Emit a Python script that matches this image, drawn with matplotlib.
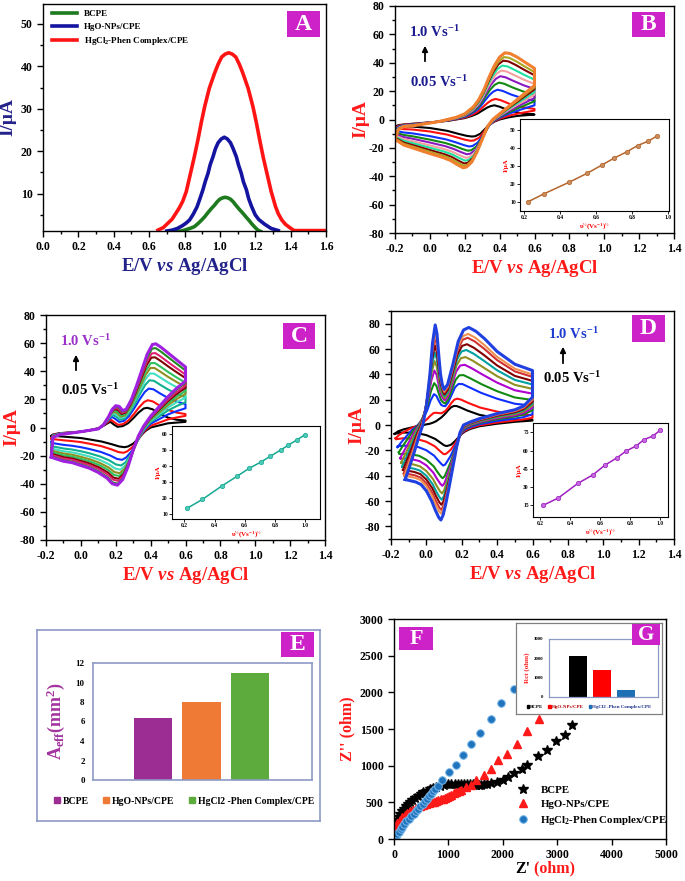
import numpy as np
import matplotlib
matplotlib.use('Agg')
import matplotlib.pyplot as plt
from matplotlib.ticker import MultipleLocator
from matplotlib.patches import Rectangle, Patch

plt.rcParams['font.family'] = ['Liberation Serif', 'DejaVu Serif']
plt.rcParams['font.weight'] = 'bold'
plt.rcParams['axes.labelweight'] = 'bold'
plt.rcParams['mathtext.fontset'] = 'custom'
plt.rcParams['mathtext.rm'] = 'Liberation Serif:bold'
plt.rcParams['mathtext.it'] = 'Liberation Serif:italic:bold'
plt.rcParams['mathtext.bf'] = 'Liberation Serif:bold'
plt.rcParams['axes.unicode_minus'] = False
plt.rcParams['axes.linewidth'] = 1.0

# ---------------- data ----------------
# A: DPV curves
dpv_labels = ['BCPE', 'HgO-NPs/CPE', 'HgCl$_2$-Phen Complex/CPE']
dpv_colors = ['#1e7a1e', '#1414a0', '#ff1414']
bcpe_E = [0.75, 0.78, 0.80, 0.83, 0.855, 0.875, 0.895, 0.915, 0.93, 0.95, 0.97, 0.985, 1.0, 1.015, 1.03,
          1.045, 1.06, 1.075, 1.09, 1.11, 1.13, 1.15, 1.165, 1.18, 1.2, 1.215, 1.23]
bcpe_I = [1.1, 1.2, 1.4, 1.8, 2.2, 2.9, 3.7, 4.6, 5.4, 6.4, 7.3, 8.1, 8.7, 9.0, 9.15,
          9.0, 8.7, 8.1, 7.3, 6.3, 5.4, 4.4, 3.7, 2.9, 2.0, 1.4, 1.1]
hgo_E = [0.70, 0.73, 0.76, 0.79, 0.81, 0.829, 0.85, 0.871, 0.887, 0.904, 0.917, 0.933, 0.945, 0.961, 0.975, 0.99,
         1.008, 1.025, 1.042, 1.06, 1.075, 1.093, 1.105, 1.121, 1.133, 1.15, 1.163, 1.18, 1.2, 1.22, 1.253, 1.29, 1.33]
hgo_I = [1.2, 1.4, 1.8, 2.5, 3.1, 3.8, 5.2, 6.9, 8.8, 10.9, 12.8, 14.8, 16.8, 18.7, 20.6, 22,
         22.9, 23.3, 22.9, 22, 20.6, 18.7, 16.8, 14.8, 12.8, 10.9, 8.8, 6.9, 5.0, 3.9, 2.8, 1.8, 1.3]
hgcl_E = [0.65, 0.68, 0.70, 0.73, 0.75, 0.77, 0.79, 0.81, 0.834, 0.855, 0.876, 0.895, 0.914, 0.94, 0.97, 0.99,
          1.01, 1.03, 1.05, 1.07, 1.09, 1.11, 1.13, 1.16, 1.187, 1.206, 1.225, 1.245, 1.266, 1.29, 1.315, 1.33,
          1.35, 1.37, 1.395, 1.42, 1.5, 1.6]
hgcl_I = [1.4, 2.0, 2.8, 4.0, 5.3, 6.6, 8.2, 10.5, 14.8, 18.6, 22.7, 26.8, 30.5, 34.8, 38.4, 40.5,
          42.2, 42.9, 43.2, 42.9, 42.2, 40.5, 38.4, 34.8, 30.5, 26.8, 22.7, 18.6, 14.8, 10.5, 6.9, 5.3,
          3.8, 2.8, 2.0, 1.3, 1.3, 1.3]

b_fwd_E_slow = [-0.2, -0.18, -0.15, -0.1, -0.05, 0.0, 0.05, 0.1, 0.15, 0.2, 0.24, 0.27, 0.29, 0.31, 0.33, 0.35, 0.37, 0.4, 0.45, 0.52, 0.6]
b_fwd_I_slow = [-5, -4, -3.5, -3, -2.5, -2, -1.5, -1, 0, 1, 2.5, 4, 5.5, 7, 8.5, 9.5, 10, 9, 6.5, 4.5, 3.5]
b_fwd_E_fast = [-0.2, -0.18, -0.15, -0.1, -0.05, 0.0, 0.05, 0.1, 0.15, 0.2, 0.25, 0.28, 0.31, 0.34, 0.37, 0.4, 0.43, 0.46, 0.5, 0.55, 0.6]
b_fwd_I_fast = [-14, -7, -5, -4.5, -3.5, -2.5, -1.5, 0, 1.5, 4, 9, 14, 21, 30, 38, 44, 47, 46.5, 44, 40, 36]
b_rev_E_slow = [0.6, 0.55, 0.5, 0.45, 0.4, 0.37, 0.35, 0.33, 0.31, 0.29, 0.26, 0.24, 0.21, 0.16, 0.1, 0.05, 0.0, -0.05, -0.1, -0.15, -0.2]
b_rev_I_slow = [3.5, 3, 2.5, 1.5, 0, -1.5, -3, -5, -7.5, -10, -11.8, -12, -11.5, -10, -8, -7, -6, -5.5, -5, -5, -5]
b_rev_E_fast = [0.6, 0.55, 0.5, 0.45, 0.4, 0.36, 0.33, 0.3, 0.27, 0.24, 0.21, 0.19, 0.16, 0.12, 0.08, 0.04, 0.0, -0.05, -0.1, -0.15, -0.2]
b_rev_I_fast = [24, 19, 14, 9, 4, 0, -5, -14, -23, -30, -33.5, -34, -32, -29, -27, -25.5, -24, -22, -20, -18, -14]
b_ipa = [10, 14.5, 21, 26, 30.5, 34.5, 38, 41.5, 44, 47]
b_ipc = [-12, -15, -19, -22, -24.5, -27, -29, -31, -32.5, -34]
b_colors = ['black', '#ff1010', '#1030ff', '#128a12', '#8a1ac0', '#f4a0a0', '#20e0a0', '#800000', '#a8a820', '#f08030']
b_sqrt_v = [0.22, 0.31, 0.45, 0.55, 0.63, 0.70, 0.77, 0.83, 0.89, 0.94]

# C: CV of HgO-NPs/CPE
c_fwd_E_slow = [-0.17, -0.16, -0.12, -0.06, 0.0, 0.05, 0.1, 0.12, 0.14, 0.16, 0.17, 0.19, 0.21, 0.24, 0.27, 0.3, 0.33, 0.36, 0.38, 0.41, 0.45, 0.5, 0.55, 0.6]
c_fwd_I_slow = [-6, -5, -4, -3.5, -3, -2, -0.5, 0.5, 2, 3.5, 4, 2, 0.5, 1, 3, 6.5, 10.5, 13.5, 14, 13, 10, 7, 5.5, 5]
c_fwd_E_fast = [-0.17, -0.16, -0.12, -0.06, 0.0, 0.05, 0.1, 0.13, 0.16, 0.18, 0.2, 0.22, 0.24, 0.26, 0.29, 0.32, 0.35, 0.38, 0.41, 0.43, 0.46, 0.5, 0.55, 0.6]
c_fwd_I_fast = [-21, -7, -5, -4, -3, -2, -1, 2, 8, 13, 15.5, 15, 12, 13, 20, 30, 41, 52, 59, 59.5, 57, 53, 48, 43]
c_rev_E_slow = [0.6, 0.55, 0.5, 0.45, 0.4, 0.37, 0.35, 0.33, 0.3, 0.27, 0.25, 0.22, 0.18, 0.12, 0.05, 0.0, -0.05, -0.1, -0.15, -0.17]
c_rev_I_slow = [4, 3.5, 3, 1.5, 0, -2.5, -5, -8, -11.5, -13.5, -14, -13.5, -12, -10, -8.5, -7.5, -7, -6.5, -6, -6]
c_rev_E_fast = [0.6, 0.55, 0.5, 0.45, 0.4, 0.36, 0.33, 0.3, 0.27, 0.24, 0.21, 0.18, 0.15, 0.1, 0.05, 0.0, -0.05, -0.1, -0.15, -0.17]
c_rev_I_fast = [33, 28, 22, 15, 8, 1, -6, -16, -28, -37, -41, -40, -36, -32, -29, -27, -25, -24, -22, -21]
c_ipa = [13.5, 19, 27.5, 33.5, 38.5, 42.5, 46, 50, 53, 56.5, 59.5]
c_ipc = [-14, -18, -23, -27, -30, -32.5, -34.5, -36.5, -38, -40, -41]
c_colors = ['black', '#ff1010', '#1030ff', '#10b090', '#40e0c0', '#909020', '#30c060', '#800000', '#e02070', '#208a20', '#a020e0']
c_sqrt_v = [0.22, 0.32, 0.45, 0.55, 0.63, 0.71, 0.77, 0.84, 0.89, 0.95, 1.0]

# D: CV of HgCl2-Phen complex/CPE
d_fwd_E_slow = [-0.18, -0.16, -0.13, -0.1, -0.07, -0.03, 0.0, 0.02, 0.04, 0.055, 0.07, 0.085, 0.1, 0.11, 0.125, 0.14, 0.155, 0.17, 0.19, 0.23, 0.3, 0.4, 0.5, 0.6]
d_fwd_I_slow = [-7, -5, -3.5, -2.5, -1.5, -0.5, 0.5, 1, 2, 3, 4.5, 6, 8, 9.5, 12, 14, 15, 15, 14, 11.5, 8, 5.5, 4, 4]
d_fwd_E_fast = [-0.12, -0.1, -0.07, -0.04, -0.02, 0.0, 0.02, 0.035, 0.05, 0.06, 0.07, 0.08, 0.09, 0.1, 0.12, 0.15, 0.18, 0.21, 0.24, 0.28, 0.33, 0.4, 0.5, 0.6]
d_fwd_I_fast = [-43, -35, -22, -8, 0, 15, 40, 65, 79, 72, 55, 40, 32, 28, 32, 48, 66, 75, 77, 74, 68, 58, 48, 43]
d_rev_E_slow = [0.6, 0.55, 0.5, 0.4, 0.3, 0.25, 0.22, 0.2, 0.18, 0.16, 0.14, 0.12, 0.11, 0.1, 0.09, 0.07, 0.05, 0.0, -0.05, -0.1, -0.14, -0.18]
d_rev_I_slow = [3.5, 3, 2.5, 1, -1, -3, -5, -7, -10, -13, -15.5, -16.5, -16.5, -16, -15, -13, -11, -8, -6.5, -6, -6, -7]
d_rev_E_fast = [0.6, 0.55, 0.5, 0.4, 0.3, 0.25, 0.21, 0.19, 0.17, 0.15, 0.13, 0.11, 0.095, 0.082, 0.07, 0.05, 0.03, 0.0, -0.03, -0.06, -0.09, -0.12]
d_rev_I_fast = [22, 15, 12, 9, 5, 2.5, 0, -6, -18, -33, -48, -62, -71, -75, -73, -67, -60, -52, -47, -45, -44, -43]
d_ipa = [15, 21, 33, 40, 48, 54, 59.5, 64, 69, 72, 77]
d_ipc = [-16, -23, -32, -42, -48, -54, -59, -63, -67, -70, -75]
d_colors = ['black', '#ff1010', '#1030ff', '#128a12', '#b000d0', '#909020', '#00a0a0', '#800000', '#d03030', '#f09050', '#2040e0']
d_sqrt_v = [0.22, 0.32, 0.45, 0.55, 0.63, 0.71, 0.77, 0.84, 0.89, 0.95, 1.0]

# E: effective area
area_labels = ['BCPE', 'HgO-NPs/CPE', 'HgCl2 -Phen Complex/CPE']
area_vals = [6.35, 7.95, 10.95]
area_colors = ['#9c2d92', '#ef7a35', '#5cab3c']

# F: Nyquist plots
bcpe_zre = [10, 30, 55, 85, 118, 150, 179, 215, 258, 300, 339, 390, 442, 490, 534, 600, 657, 720, 780, 850, 915, 985,
            1056, 1120, 1178, 1230, 1283, 1340, 1393, 1450, 1504, 1560, 1608, 1660, 1712, 1792, 1896, 2006, 2098, 2209,
            2344, 2448, 2650, 2805, 2970, 3140, 3275]
bcpe_zim = [120, 190, 263, 305, 345, 380, 413, 448, 481, 510, 536, 565, 590, 615, 636, 660, 682, 695, 704, 725, 740, 748,
            750, 752, 750, 752, 754, 752, 750, 748, 742, 740, 740, 745, 750, 763, 772, 809, 845, 900,
            955, 1013, 1126, 1208, 1331, 1425, 1555]
hgo_zre = [20, 31, 60, 105, 150, 197, 240, 289, 350, 412, 470, 534, 590, 644, 690, 731, 770, 810, 860, 902, 940, 975,
           1015, 1056, 1100, 1148, 1195, 1240, 1320, 1411, 1516, 1651, 1792, 1914, 2080, 2252, 2450, 2660]
hgo_zim = [90, 172, 220, 263, 300, 332, 355, 377, 400, 423, 447, 468, 480, 491, 500, 509, 518, 527, 540, 550, 562, 573,
           590, 604, 622, 641, 656, 672, 704, 740, 799, 877, 955, 1072, 1163, 1300, 1470, 1640]
hgcl_zre = [30, 60, 90, 120, 155, 190, 228, 270, 320, 360, 400, 445, 486, 525, 565, 605, 644, 680, 718, 760, 810, 891,
            1012, 1148, 1270, 1411, 1580, 1780, 1960, 2200]
hgcl_zim = [40, 70, 100, 130, 164, 200, 240, 275, 308, 345, 377, 410, 445, 480, 513, 548, 581, 615, 649, 685, 717, 799,
            908, 1013, 1140, 1300, 1440, 1640, 1850, 2040]

# G: charge transfer resistance
rct_labels = ['BCPE', 'HgO-NPs/CPE', 'HgCl2 -Phen Complex/CPE']
rct_vals = [2100, 1400, 380]
rct_colors = ['black', '#ff0000', '#1f6fb5']

# ---------------- figure ----------------
W, H = 685, 881
fig = plt.figure(figsize=(W / 100, H / 100), dpi=100)


def px_axes(l, t, r, b):
    return fig.add_axes([l / W, 1 - b / H, (r - l) / W, (b - t) / H])


def fx(x):
    return x / W


def fy(y):
    return 1 - y / H


def style(ax, size=8.5, minor=None):
    ax.tick_params(which='both', direction='out', labelsize=size, width=1, top=False, right=False)
    ax.tick_params(which='major', length=4)
    ax.tick_params(which='minor', length=2)
    if minor:
        ax.xaxis.set_minor_locator(MultipleLocator(minor[0]))
        ax.yaxis.set_minor_locator(MultipleLocator(minor[1]))


def label_box(l, t, r, b, letter, size=17):
    fig.add_artist(Rectangle((fx(l), fy(b)), (r - l) / W, (b - t) / H, transform=fig.transFigure,
                             facecolor='#cc22c8', edgecolor='none', zorder=20))
    fig.text(fx((l + r) / 2), fy((t + b) / 2), letter, color='white', fontsize=size,
             ha='center', va='center', zorder=21)


def draw_cv(ax, fwd_slow, fwd_fast, rev_slow, rev_fast, ipa, ipc, colors):
    fse, fsi = np.array(fwd_slow[0]), np.array(fwd_slow[1])
    ffe, ffi = np.array(fwd_fast[0]), np.array(fwd_fast[1])
    rse, rsi = np.array(rev_slow[0]), np.array(rev_slow[1])
    rfe, rfi = np.array(rev_fast[0]), np.array(rev_fast[1])
    n = len(ipa)
    for k in range(n):
        # each scan sits between the slowest and fastest one, by its own peak current
        wa = (ipa[k] - ipa[0]) / (ipa[-1] - ipa[0])
        wc = (ipc[k] - ipc[0]) / (ipc[-1] - ipc[0])
        E = np.concatenate([fse + wa * (ffe - fse), rse + wc * (rfe - rse)])
        I = np.concatenate([fsi + wa * (ffi - fsi), rsi + wc * (rfi - rsi)])
        E = np.append(E, E[0])
        I = np.append(I, I[0])
        ax.plot(E, I, color=colors[k], lw=2.2 if k == n - 1 else 1.5, solid_joinstyle='round')


def draw_inset(box, xv, yv, color, mfc, xlim, ylim, yticks):
    ax = px_axes(*box)
    ax.plot(xv, yv, color=color, lw=1.1, marker='o', ms=3.2, mfc=mfc, mec=color, mew=0.5)
    ax.set_xlim(*xlim)
    ax.set_ylim(*ylim)
    ax.set_xticks([0.2, 0.4, 0.6, 0.8, 1.0])
    ax.set_yticks(yticks)
    ax.tick_params(direction='out', length=2, width=0.6, labelsize=4, pad=1)
    for s in ax.spines.values():
        s.set_linewidth(0.8)
    ax.set_ylabel('I/μA', color='red', fontsize=5, labelpad=1)
    ax.set_xlabel('υ$^{½}$(Vs$^{-1}$)$^{½}$', color='red', fontsize=5, labelpad=1)
    return ax


# ---- A ----
axA = px_axes(43, 4, 326, 231)
for E, I, c, lab in zip([bcpe_E, hgo_E, hgcl_E], [bcpe_I, hgo_I, hgcl_I], dpv_colors, dpv_labels):
    axA.plot(E, I, color=c, lw=2.6, label=lab, solid_joinstyle='round')
axA.set_xlim(0, 1.6)
axA.set_ylim(1.2, 54.7)
axA.set_xticks(np.arange(0, 1.61, 0.2))
axA.set_yticks([10, 20, 30, 40, 50])
style(axA, minor=(0.1, 5))
axA.set_xlabel(r'E/V $vs$ Ag/AgCl', color='#22228a', fontsize=13.5, labelpad=2)
axA.set_ylabel('I/μA', color='#22228a', fontsize=14, labelpad=3)
axA.legend(loc='upper left', bbox_to_anchor=(fx(48), fy(6)), bbox_transform=fig.transFigure,
           frameon=False, fontsize=6.5, handlelength=2.8, labelspacing=0.5, borderaxespad=0)
label_box(287, 11, 320, 37, 'A')

# ---- B ----
axB = px_axes(395, 6, 674, 233)
draw_cv(axB, (b_fwd_E_slow, b_fwd_I_slow), (b_fwd_E_fast, b_fwd_I_fast),
        (b_rev_E_slow, b_rev_I_slow), (b_rev_E_fast, b_rev_I_fast), b_ipa, b_ipc, b_colors)
axB.set_xlim(-0.2, 1.4)
axB.set_ylim(-80, 80)
axB.set_xticks(np.round(np.arange(-0.2, 1.41, 0.2), 1))
axB.set_yticks(np.arange(-80, 81, 20))
style(axB, minor=(0.1, 10))
axB.set_xlabel(r'E/V $vs$ Ag/AgCl', color='#ff1a1a', fontsize=13.5, labelpad=2)
axB.set_ylabel('I/μA', color='#ff1a1a', fontsize=14, labelpad=0)
fig.text(fx(409), fy(32), '1.0 Vs$^{-1}$', color='#1a1a90', fontsize=10.5, va='center')
fig.text(fx(410), fy(82), '0.05 Vs$^{-1}$', color='#1a1a90', fontsize=10.5, va='center')
axB.annotate('', xy=(fx(425), fy(43)), xytext=(fx(425), fy(64)), xycoords='figure fraction',
             arrowprops=dict(arrowstyle='-|>', color='black', lw=1.3, mutation_scale=8))
draw_inset((520, 119, 669, 211), b_sqrt_v, b_ipa, '#b5652a', '#c98d5e', (0.175, 1.005), (4.8, 56.4),
           [10, 20, 30, 40, 50])
label_box(632, 12, 665, 37, 'B')

# ---- C ----
axC = px_axes(46, 315, 325, 540)
draw_cv(axC, (c_fwd_E_slow, c_fwd_I_slow), (c_fwd_E_fast, c_fwd_I_fast),
        (c_rev_E_slow, c_rev_I_slow), (c_rev_E_fast, c_rev_I_fast), c_ipa, c_ipc, c_colors)
axC.set_xlim(-0.2, 1.4)
axC.set_ylim(-80, 80)
axC.set_xticks(np.round(np.arange(-0.2, 1.41, 0.2), 1))
axC.set_yticks(np.arange(-80, 81, 20))
style(axC, minor=(0.1, 10))
axC.set_xlabel(r'E/V $vs$ Ag/AgCl', color='#ff1a1a', fontsize=13.5, labelpad=2)
axC.set_ylabel('I/μA', color='#ff1a1a', fontsize=14, labelpad=0)
fig.text(fx(60), fy(341), '1.0 Vs$^{-1}$', color='#9b30c8', fontsize=10.5, va='center')
fig.text(fx(61), fy(390), '0.05 Vs$^{-1}$', color='black', fontsize=10.5, va='center')
axC.annotate('', xy=(fx(76), fy(352)), xytext=(fx(76), fy(373)), xycoords='figure fraction',
             arrowprops=dict(arrowstyle='-|>', color='black', lw=1.3, mutation_scale=8))
draw_inset((172, 426, 320, 519), c_sqrt_v, c_ipa, '#17a893', '#4ccab6', (0.118, 1.1), (6.7, 65),
           [10, 20, 30, 40, 50, 60])
label_box(283, 323, 315, 349, 'C')

# ---- D ----
axD = px_axes(391, 311, 674, 539)
draw_cv(axD, (d_fwd_E_slow, d_fwd_I_slow), (d_fwd_E_fast, d_fwd_I_fast),
        (d_rev_E_slow, d_rev_I_slow), (d_rev_E_fast, d_rev_I_fast), d_ipa, d_ipc, d_colors)
axD.set_xlim(-0.2, 1.4)
axD.set_ylim(-90, 90)
axD.set_xticks(np.round(np.arange(-0.2, 1.41, 0.2), 1))
axD.set_yticks(np.arange(-80, 81, 20))
style(axD, minor=(0.1, 10))
axD.set_xlabel(r'E/V $vs$ Ag/AgCl', color='#ff1a1a', fontsize=13.5, labelpad=2)
axD.set_ylabel('I/μA', color='#ff1a1a', fontsize=14, labelpad=0)
fig.text(fx(548), fy(334), '1.0 Vs$^{-1}$', color='#1f3ad0', fontsize=10.5, va='center')
fig.text(fx(543), fy(378), '0.05 Vs$^{-1}$', color='black', fontsize=10.5, va='center')
axD.annotate('', xy=(fx(563), fy(344)), xytext=(fx(563), fy(366)), xycoords='figure fraction',
             arrowprops=dict(arrowstyle='-|>', color='black', lw=1.3, mutation_scale=8))
draw_inset((533, 423, 668, 517), d_sqrt_v, d_ipa, '#a020c0', '#c468e0', (0.151, 1.05), (5.3, 82.7),
           [15, 30, 45, 60, 75])
label_box(632, 315, 665, 342, 'D')

# ---- E ----
frameE = px_axes(37, 630, 320, 821)
frameE.set_xticks([])
frameE.set_yticks([])
for s in frameE.spines.values():
    s.set_color('#8d9ac6')
    s.set_linewidth(1.2)
axE = px_axes(93, 663, 312, 780)
axE.bar(range(3), area_vals, width=0.79, color=area_colors)
axE.set_xlim(-1.24, 3.28)
axE.set_ylim(0, 12)
axE.set_yticks(range(0, 13, 2))
axE.set_xticks([])
axE.tick_params(axis='y', length=0, labelsize=6.5, pad=6)
for s in axE.spines.values():
    s.set_color('#8d9ac6')
    s.set_linewidth(1.2)
axE.set_ylabel(r'A$_{\rm eff}$(mm$^2$)', color='#a3329e', fontsize=13, labelpad=6)
axE.legend([Patch(color=c) for c in area_colors], area_labels, ncol=3, loc='center',
           bbox_to_anchor=(fx(184), fy(801)), bbox_transform=fig.transFigure, frameon=False,
           fontsize=7, handlelength=0.6, handleheight=0.6, handletextpad=0.3, columnspacing=1.5)
label_box(281, 632, 314, 657, 'E')

# ---- F ----
axF = px_axes(394, 619, 666, 839)
axF.plot(bcpe_zre, bcpe_zim, ls='none', marker='*', ms=7, color='black', label='BCPE')
axF.plot(hgo_zre, hgo_zim, ls='none', marker='^', ms=6, color='#ff1a1a', label='HgO-NPs/CPE')
axF.plot(hgcl_zre, hgcl_zim, ls='none', marker='o', ms=5.5, mfc='#1f74bd', mec='#7ab8e8', mew=0.7,
         label='HgCl$_2$-Phen Complex/CPE')
axF.set_xlim(0, 5000)
axF.set_ylim(0, 3000)
axF.set_xticks(range(0, 5001, 1000))
axF.set_yticks(range(0, 3001, 500))
style(axF)
axF.set_ylabel("Z'' (ohm)", color='#ff1a1a', fontsize=11.5, labelpad=3)
axF.text(0.5, -0.135, "Z'", color='black', fontsize=11.5, ha='right', va='center', transform=axF.transAxes)
axF.text(0.5, -0.135, " (ohm)", color='#ff1a1a', fontsize=11.5, ha='left', va='center', transform=axF.transAxes)
axF.legend(loc='center left', bbox_to_anchor=(fx(508), fy(806)), bbox_transform=fig.transFigure,
           frameon=False, fontsize=7.8, labelspacing=0.45, handlelength=2.0, handletextpad=0.6,
           borderaxespad=0)
label_box(399, 627, 433, 650, 'F', size=16)

# ---- G (inset of F) ----
frameG = px_axes(516, 623, 662, 714)
frameG.set_xticks([])
frameG.set_yticks([])
frameG.set_zorder(5)
for s in frameG.spines.values():
    s.set_color('#808080')
    s.set_linewidth(0.9)
axG = px_axes(549, 639, 658, 697)
axG.set_zorder(6)
axG.bar(range(3), rct_vals, width=0.75, color=rct_colors)
axG.set_xlim(-1.2, 3.33)
axG.set_ylim(0, 3000)
axG.set_yticks([0, 1000, 2000, 3000])
axG.set_xticks([])
axG.tick_params(axis='y', length=0, labelsize=3.5, pad=4)
for s in axG.spines.values():
    s.set_color('#8d9ac6')
    s.set_linewidth(0.9)
axG.set_ylabel('Rct (ohm)', color='#ff1a1a', fontsize=5, labelpad=3)
axG.legend([Patch(color=c) for c in rct_colors], rct_labels, ncol=3, loc='center',
           bbox_to_anchor=(fx(589), fy(707)), bbox_transform=fig.transFigure, frameon=False,
           fontsize=3.6, handlelength=0.5, handleheight=0.5, handletextpad=0.2, columnspacing=1.0,
           labelcolor=['black', '#b00000', '#1a2f8a'])
label_box(632, 624, 660, 645, 'G', size=15)

fig.savefig('out.png', dpi=100)
